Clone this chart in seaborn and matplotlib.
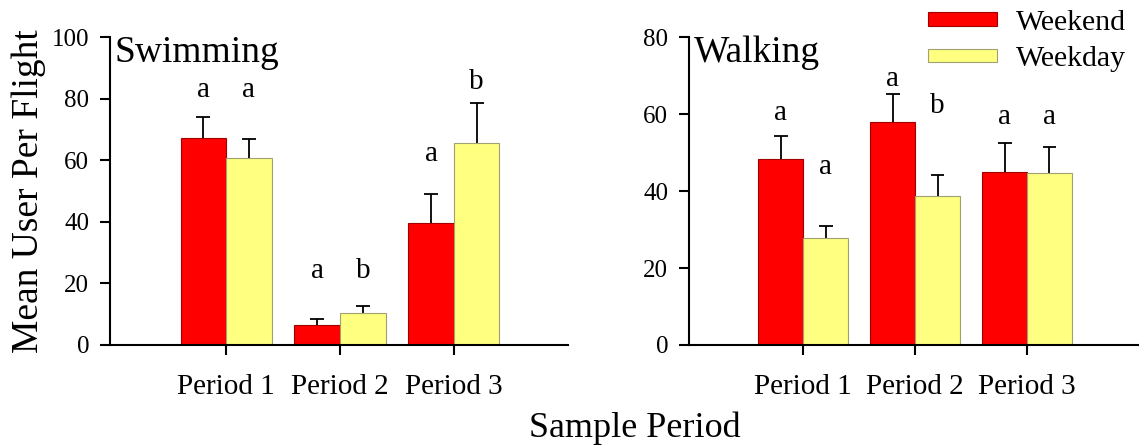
import matplotlib
matplotlib.use("Agg")
import matplotlib.pyplot as plt
import seaborn as sns
import pandas as pd
from matplotlib.patches import Patch

periods = ["Period 1", "Period 2", "Period 3"]
day_types = ["Weekend", "Weekday"]

# Swimming: means, upper error, letters and letter heights
swim_weekend = [67.1, 6.4, 39.5]
swim_weekday = [60.6, 10.3, 65.7]
swim_weekend_se = [7.1, 2.0, 9.4]
swim_weekday_se = [6.3, 2.3, 12.8]
swim_weekend_let = ["a", "a", "a"]
swim_weekday_let = ["a", "b", "b"]
swim_weekend_let_y = [80.5, 21.8, 59.8]
swim_weekday_let_y = [80.5, 21.8, 83.3]

# Walking
walk_weekend = [48.4, 58.0, 44.9]
walk_weekday = [27.9, 38.6, 44.7]
walk_weekend_se = [5.8, 7.3, 7.6]
walk_weekday_se = [2.9, 5.5, 6.8]
walk_weekend_let = ["a", "a", "a"]
walk_weekday_let = ["a", "b", "a"]
walk_weekend_let_y = [58.4, 67.4, 57.5]
walk_weekday_let_y = [44.5, 60.3, 57.5]

colors = {"Weekend": "#ff0000", "Weekday": "#ffff80"}
edges = {"Weekend": "#a00000", "Weekday": "#a0a070"}

sns.set_style("ticks")
plt.rcParams["font.family"] = ["Liberation Serif", "DejaVu Serif"]
plt.rcParams["axes.linewidth"] = 1.5
plt.rcParams["text.color"] = "black"
plt.rcParams["axes.edgecolor"] = "black"
plt.rcParams["xtick.color"] = "black"
plt.rcParams["ytick.color"] = "black"
plt.rcParams["axes.labelcolor"] = "black"

fig = plt.figure(figsize=(11.39, 4.48), dpi=100)
ax1 = fig.add_axes([0.0965, 0.230, 0.402, 0.687])
ax2 = fig.add_axes([0.605, 0.230, 0.395, 0.687])


def make_df(wk_end, wk_day, se_end, se_day, let_end, let_day, ly_end, ly_day):
    rows = []
    for i, p in enumerate(periods):
        rows.append(dict(period=p, day="Weekend", mean=wk_end[i], se=se_end[i], let=let_end[i], ly=ly_end[i]))
        rows.append(dict(period=p, day="Weekday", mean=wk_day[i], se=se_day[i], let=let_day[i], ly=ly_day[i]))
    return pd.DataFrame(rows)


def draw_panel(ax, df, title, ymax, yticks):
    sns.barplot(data=df, x="period", y="mean", hue="day", order=periods, hue_order=day_types,
                palette=colors, errorbar=None, width=0.8, gap=0, saturation=1, ax=ax, legend=False)
    for cont, day in zip(ax.containers, day_types):
        sub = df[df["day"] == day].set_index("period").loc[periods]
        xs = [b.get_x() + b.get_width() / 2 for b in cont]
        for b in cont:
            b.set_edgecolor(edges[day])
            b.set_linewidth(0.8)
            b.set_zorder(2)
        tops = sub["mean"] + sub["se"]
        # upper half error bar only, with cap
        ax.vlines(xs, sub["mean"], tops, color="black", linewidth=1.3, zorder=1)
        ax.hlines(tops, [x - 0.062 for x in xs], [x + 0.062 for x in xs], color="black",
                  linewidth=1.3, zorder=1)
        for x, lt, ly in zip(xs, sub["let"], sub["ly"]):
            ax.text(x, ly, lt, ha="center", va="baseline", fontsize=21)
    ax.set_xlim(-1.02, 3.0)
    ax.set_ylim(0, ymax)
    ax.set_yticks(yticks)
    ax.set_xlabel("")
    ax.set_ylabel("")
    ax.tick_params(axis="y", labelsize=18, length=7, width=1.5, pad=8)
    ax.tick_params(axis="x", labelsize=21, length=7, width=1.5, pad=14)
    sns.despine(ax=ax)
    ax.text(0.01, 0.919, title, transform=ax.transAxes, ha="left", va="baseline", fontsize=27)


swim = make_df(swim_weekend, swim_weekday, swim_weekend_se, swim_weekday_se,
               swim_weekend_let, swim_weekday_let, swim_weekend_let_y, swim_weekday_let_y)
walk = make_df(walk_weekend, walk_weekday, walk_weekend_se, walk_weekday_se,
               walk_weekend_let, walk_weekday_let, walk_weekend_let_y, walk_weekday_let_y)

draw_panel(ax1, swim, "Swimming", 100, [0, 20, 40, 60, 80, 100])
draw_panel(ax2, walk, "Walking", 80, [0, 20, 40, 60, 80])

ax1.set_ylabel("Mean User Per Flight", fontsize=27, labelpad=4)
fig.text(0.557, 0.025, "Sample Period", ha="center", va="baseline", fontsize=26)

handles = [Patch(facecolor=colors[d], edgecolor=edges[d], linewidth=0.8) for d in day_types]
fig.legend(handles, day_types, loc="upper left", bbox_to_anchor=(0.812, 0.985), frameon=False,
           fontsize=21.5, handlelength=2.3, handleheight=0.32, handletextpad=0.65,
           labelspacing=0.35, borderpad=0.1, borderaxespad=0)

fig.savefig("out.png", dpi=100)
